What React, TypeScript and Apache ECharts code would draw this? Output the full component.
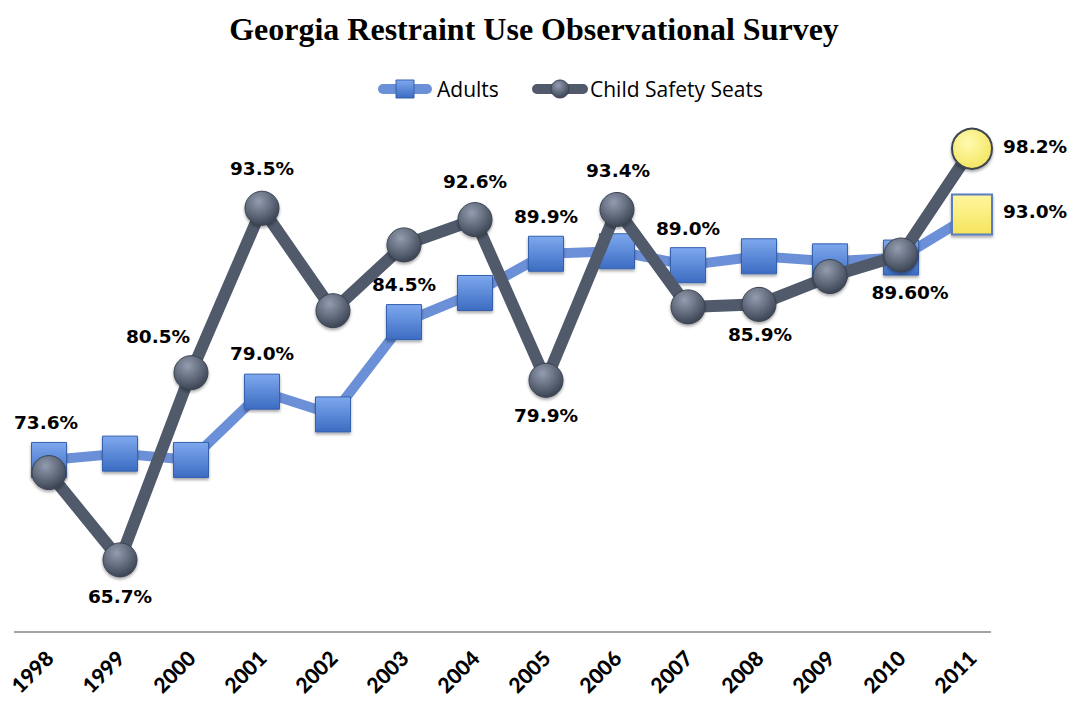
import React, { useEffect, useRef } from "react";
import * as echarts from "echarts";

const years = ["1998", "1999", "2000", "2001", "2002", "2003", "2004", "2005", "2006", "2007", "2008", "2009", "2010", "2011"];
const adults = [73.6, 74.1, 73.6, 79.0, 77.2, 84.5, 86.8, 89.9, 90.1, 89.0, 89.7, 89.3, 89.6, 93.0];
const child = [72.6, 65.7, 80.5, 93.5, 85.4, 90.6, 92.6, 79.9, 93.4, 85.7, 85.9, 88.1, 89.8, 98.2];
const adultsLabels = ["73.6%", "", "", "79.0%", "", "84.5%", "", "89.9%", "", "89.0%", "", "", "89.60%", "93.0%"];
const childLabels = ["", "65.7%", "80.5%", "93.5%", "", "", "92.6%", "79.9%", "93.4%", "", "85.9%", "", "", "98.2%"];
const seriesNames = ["Adults", "Child Safety Seats"];
const highlightIndex = 13;

// label placement (offset from marker centre)
const adultsOffsets: Record<number, [number, number]> = {
  0: [-3, -37], 3: [0, -38], 5: [0, -38], 7: [0, -37], 9: [0, -37], 12: [9, 35], 13: [63, -3],
};
const childOffsets: Record<number, [number, number]> = {
  1: [0, 37], 2: [-33, -36], 3: [0, -40], 6: [0, -38], 7: [0, 35], 8: [1, -39], 10: [1, 30], 13: [63, -2],
};

const labelFont = {
  fontFamily: "DejaVu Sans",
  fontWeight: "bold" as const,
  fontSize: 18.5,
  color: "#000",
};

const adultLineColor = "#6c90d8";
const childLineColor = "#505a6b";

const squareFill = {
  type: "linear", x: 0, y: 0, x2: 0, y2: 1,
  colorStops: [{ offset: 0, color: "#7ea8ee" }, { offset: 1, color: "#3c6cc2" }],
};
const circleFill = {
  type: "radial", x: 0.4, y: 0.3, r: 0.75,
  colorStops: [{ offset: 0, color: "#939db0" }, { offset: 1, color: "#363f4e" }],
};
const yellowSquare = {
  type: "linear", x: 0, y: 0, x2: 0, y2: 1,
  colorStops: [{ offset: 0, color: "#fff7a0" }, { offset: 1, color: "#f5e45c" }],
};
const yellowCircle = {
  type: "radial", x: 0.4, y: 0.35, r: 0.75,
  colorStops: [{ offset: 0, color: "#fffbb0" }, { offset: 1, color: "#f3e258" }],
};

function buildData(values: number[], labels: string[], offsets: Record<number, [number, number]>, isCircle: boolean) {
  return values.map((v, i) => {
    const item: any = { value: v };
    if (labels[i]) {
      item.label = {
        show: true,
        position: "inside",
        offset: offsets[i] || [0, -38],
        formatter: labels[i],
        ...labelFont,
      };
    }
    if (i === highlightIndex) {
      item.symbolSize = 40;
      item.itemStyle = {
        color: isCircle ? yellowCircle : yellowSquare,
        borderColor: isCircle ? "#3d4450" : "#5a7ec0",
        borderWidth: 2,
      };
    }
    return item;
  });
}

export default function App() {
  const ref = useRef<HTMLDivElement>(null);
  useEffect(() => {
    if (!ref.current) return;
    const chart = echarts.init(ref.current, null, { renderer: "svg" });
    const legendY = 89;
    chart.setOption({
      animation: false,
      backgroundColor: "#fff",
      title: {
        text: "Georgia Restraint Use Observational Survey",
        left: 529,
        textAlign: "center",
        top: 8,
        textStyle: { fontFamily: "Liberation Serif", fontWeight: "bold", fontSize: 32, color: "#000" },
      },
      grid: { left: 13.5, width: 994, top: 126, height: 506, containLabel: false },
      xAxis: {
        type: "category",
        data: years,
        boundaryGap: true,
        axisLine: { show: false },
        axisTick: { show: false },
        axisLabel: {
          rotate: 45,
          margin: 22,
          fontFamily: "Lato",
          fontWeight: 900,
          fontSize: 21,
          color: "#000",
        },
      },
      yAxis: { type: "value", min: 60, max: 100, show: false, splitLine: { show: false } },
      graphic: [
        { type: "line", shape: { x1: 14, y1: 632, x2: 991, y2: 632 }, style: { stroke: "#868686", lineWidth: 1.5 } },
        // legend: Adults
        { type: "rect", shape: { x: 378, y: legendY - 5, width: 54, height: 10, r: 5 }, style: { fill: adultLineColor } },
        {
          type: "rect", shape: { x: 396, y: legendY - 9, width: 18, height: 18 },
          style: { fill: squareFill as any, stroke: "#3561ad", lineWidth: 1 },
        },
        {
          type: "text", x: 437, y: legendY,
          style: { text: seriesNames[0], fontFamily: "Open Sans", fontSize: 21, fill: "#000", verticalAlign: "middle", align: "left" },
        },
        // legend: Child Safety Seats
        { type: "rect", shape: { x: 532, y: legendY - 5, width: 56, height: 10, r: 5 }, style: { fill: childLineColor } },
        {
          type: "circle", shape: { cx: 560, cy: legendY, r: 9 },
          style: { fill: circleFill as any, stroke: "#3a4250", lineWidth: 1 },
        },
        {
          type: "text", x: 590, y: legendY,
          style: { text: seriesNames[1], fontFamily: "Open Sans", fontSize: 21, fill: "#000", verticalAlign: "middle", align: "left" },
        },
      ],
      series: [
        {
          name: seriesNames[0],
          type: "line",
          data: buildData(adults, adultsLabels, adultsOffsets, false),
          symbol: "rect",
          symbolSize: 35,
          lineStyle: { color: adultLineColor, width: 10 },
          itemStyle: {
            color: squareFill,
            borderColor: "#3561ad",
            borderWidth: 1,
            shadowBlur: 3,
            shadowColor: "rgba(0,0,0,0.35)",
            shadowOffsetY: 2,
          },
          z: 2,
        },
        {
          name: seriesNames[1],
          type: "line",
          data: buildData(child, childLabels, childOffsets, true),
          symbol: "circle",
          symbolSize: 34,
          lineStyle: { color: childLineColor, width: 12 },
          itemStyle: {
            color: circleFill,
            borderColor: "#3a4250",
            borderWidth: 1,
            shadowBlur: 3,
            shadowColor: "rgba(0,0,0,0.35)",
            shadowOffsetY: 2,
          },
          z: 3,
        },
      ],
    });
    return () => chart.dispose();
  }, []);
  return <div ref={ref} style={{ position: "absolute", left: 0, top: 0, width: 1072, height: 701 }} />;
}
